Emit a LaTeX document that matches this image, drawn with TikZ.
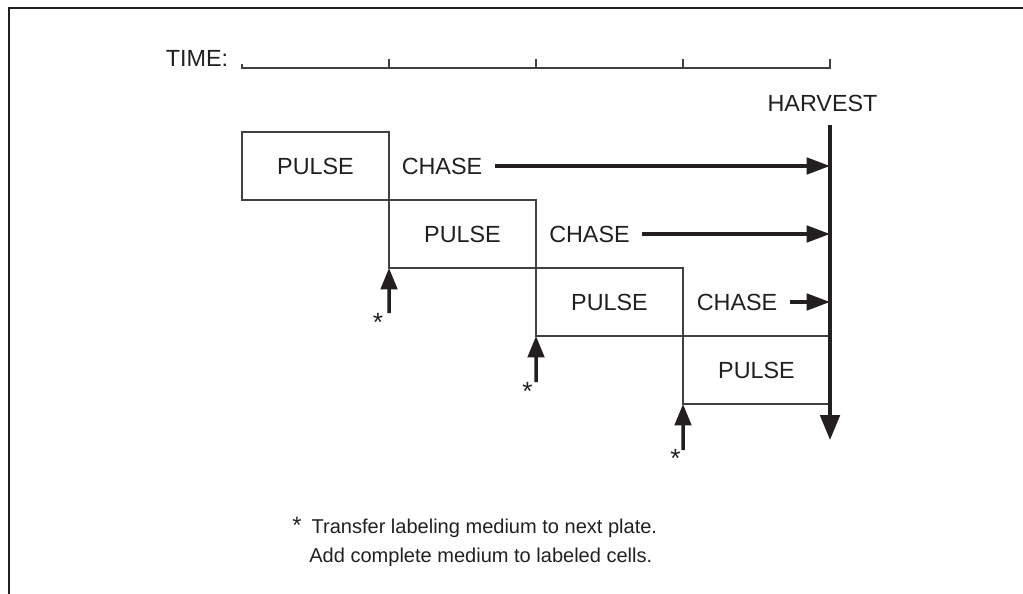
\documentclass[tikz,border=0pt]{standalone}
\usepackage{fontspec}
\setmainfont{Liberation Sans}
\usepackage{tikz}
\usetikzlibrary{positioning}
\usetikzlibrary{arrows.meta}

\definecolor{tinta}{HTML}{231F20}

\begin{document}
\begin{tikzpicture}[x=0.02cm, y=-0.02cm,
    lbl/.style={inner sep=0pt, text=tinta, font=\fontsize{13.3pt}{16pt}\selectfont},
    chase/.style={lbl, inner xsep=6.8pt},
    pulsebox/.style={lbl, draw=black!75, line width=0.75pt, minimum width=2.94cm, minimum height=1.36cm, outer sep=0pt},
    nota/.style={inner sep=0pt, text=tinta, font=\fontsize{11.4pt}{14pt}\selectfont, anchor=base west},
    estrella/.style={inner sep=0pt, text=tinta, font=\fontsize{15pt}{16pt}\selectfont, anchor=base},
    fino/.style={draw=black!75, line width=0.75pt},
    chasearr/.style={draw=tinta, line width=2pt, -{Triangle[length=0.47cm, width=0.33cm]}},
    harvarr/.style={draw=tinta, line width=2pt, -{Triangle[length=0.5cm, width=0.39cm]}},
    uparr/.style={draw=tinta, line width=2pt, -{Triangle[length=0.43cm, width=0.33cm]}}]
              \useasboundingbox (0,0) rectangle (1023,594);
              % Marco
              \draw[tinta, line width=0.04cm] (9,594) -- (9,8) -- (1023,8);

              % Eje de tiempo
              \node[lbl] (time) at (197,58) {TIME:};
              \draw[fino] (242,64) -- (242,68) -- (830,68) -- (830,59);
              \draw[fino] (389,68) -- (389,59);
              \draw[fino] (536,68) -- (536,59);
              \draw[fino] (683,68) -- (683,59);

              % Nodos
              \node[pulsebox] (p1) at (315.5,166) {PULSE};
              \node[pulsebox] (p2) at (462.5,234) {PULSE};
              \node[pulsebox] (p3) at (609.5,302) {PULSE};
              \node[pulsebox] (p4) at (756.5,370) {PULSE};
              \node[chase] (c1) at (442,166) {CHASE};
              \node[chase] (c2) at (589.5,234) {CHASE};
              \node[chase] (c3) at (737,302) {CHASE};
              \node[lbl] (h) at (822.5,103.5) {HARVEST};
              \coordinate (htop) at (830,125);
              \coordinate (hbot) at (830,440);
              \node[estrella] (s1) at (378,331) {*};
              \node[estrella] (s2) at (527.5,400) {*};
              \node[estrella] (s3) at (675.5,467) {*};
              \coordinate (a1) at (389,313);
              \coordinate (a2) at (536,382);
              \coordinate (a3) at (683,450);

              % Aristas
              \draw[harvarr] (htop) -- (hbot);
              \draw[chasearr] (c1.east) -- (c1.east -| htop);
              \draw[chasearr] (c2.east) -- (c2.east -| htop);
              \draw[chasearr] (c3.east) -- (c3.east -| htop);
              \draw[uparr] (a1) -- (p2.south west);
              \draw[uparr] (a2) -- (p3.south west);
              \draw[uparr] (a3) -- (p4.south west);

              % Nota
              \node[nota] (n1) at (292,533) {{\fontsize{13.5pt}{14pt}\selectfont *}\hspace{0.5em}Transfer labeling medium to next plate.};
              \node[nota] (n2) at (309,562) {Add complete medium to labeled cells.};
            \end{tikzpicture}
\end{document}
